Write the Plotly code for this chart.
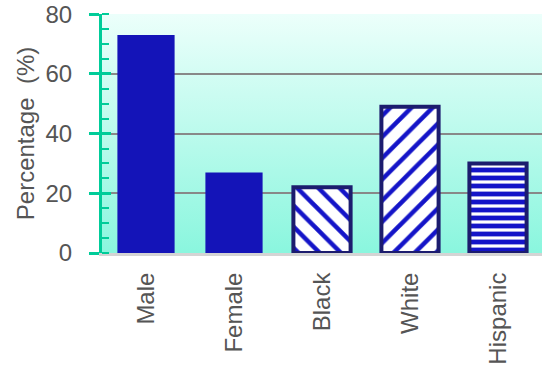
import base64
import plotly.graph_objects as go

categories = ["Male", "Female", "Black", "White", "Hispanic"]
values = [73, 27, 22, 49, 30]
patterns = ["", "", "\\", "/", "-"]
pattern_sizes = [8, 8, 15, 15, 8]
pattern_solidity = [0.3, 0.3, 0.3, 0.3, 0.6]
y_ticks = [0, 20, 40, 60, 80]

BLUE = "#1414b8"
PAT_BLUE = "#1414c8"
NAVY = "#1c1c6e"
GREEN = "#00cc99"
TXT = "#555555"
FONT = "Liberation Sans, Arial, sans-serif"
FS = 24

x_pos = list(range(len(categories)))

fig = go.Figure()
for i, cat in enumerate(categories):
    pat = patterns[i]
    if pat:
        marker = dict(color="white", line=dict(color=NAVY, width=4),
                      pattern=dict(shape=pat, fgcolor=PAT_BLUE, bgcolor="white",
                                   fgopacity=1, size=pattern_sizes[i],
                                   solidity=pattern_solidity[i],
                                   fillmode="replace"))
    else:
        marker = dict(color=BLUE, line=dict(width=0))
    fig.add_trace(go.Bar(x=[x_pos[i]], y=[values[i]], width=0.65, name=cat,
                         marker=marker, showlegend=False, hoverinfo="skip"))

# helper trace for the inside part of the major ticks
fig.add_trace(go.Scatter(x=[None], y=[None], yaxis="y2", showlegend=False,
                         hoverinfo="skip"))

svg = ('<svg xmlns="http://www.w3.org/2000/svg" width="10" height="100" preserveAspectRatio="none">'
       '<defs><linearGradient id="g" x1="0" y1="0" x2="0" y2="1">'
       '<stop offset="0" stop-color="rgb(236,255,251)"/>'
       '<stop offset="1" stop-color="rgb(138,246,222)"/></linearGradient></defs>'
       '<rect width="10" height="100" fill="url(#g)"/></svg>')
src = "data:image/svg+xml;base64," + base64.b64encode(svg.encode()).decode()
fig.add_layout_image(dict(source=src, xref="x domain", yref="y domain", x=0, y=1,
                          sizex=1, sizey=1, sizing="stretch", layer="below",
                          xanchor="left", yanchor="top"))

fig.update_layout(
    width=542, height=366,
    margin=dict(l=102, r=0, t=14, b=113),
    paper_bgcolor="white", plot_bgcolor="rgba(0,0,0,0)",
    font=dict(family=FONT, size=FS, color=TXT),
    barmode="overlay",
    xaxis=dict(range=[-0.5, 4.5], tickvals=x_pos, ticktext=categories,
               tickangle=-90, showgrid=False, zeroline=False,
               showline=True, linecolor="#d4d4d4", linewidth=3,
               ticks="", ticklabelstandoff=7, automargin=False,
               tickfont=dict(family=FONT, size=FS, color=TXT)),
    yaxis=dict(range=[0, 80.05], tickvals=y_ticks, showgrid=True,
               gridcolor="#888888", gridwidth=2, zeroline=False,
               showline=True, linecolor=GREEN, linewidth=3,
               ticks="outside", ticklen=10, tickwidth=3, tickcolor=GREEN,
               ticklabelstandoff=12, ticklabeloverflow="allow",
               automargin=False,
               minor=dict(dtick=5, ticks="inside", ticklen=7, tickwidth=2,
                          tickcolor=GREEN, showgrid=False),
               title=dict(text="Percentage  (%)", standoff=5,
                          font=dict(family=FONT, size=FS, color=TXT)),
               tickfont=dict(family=FONT, size=FS, color=TXT)),
    yaxis2=dict(range=[0, 80.05], overlaying="y", side="left", tickvals=y_ticks,
                showgrid=False, zeroline=False, showline=False,
                showticklabels=False, ticks="inside", ticklen=9,
                tickwidth=3, tickcolor=GREEN),
)

fig.write_html("out.html")
